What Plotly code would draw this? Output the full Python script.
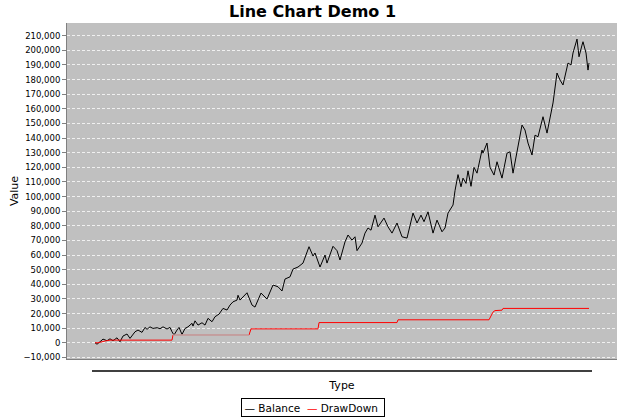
import plotly.graph_objects as go

# Balance series (period index, value)
bal_period = [0, 2, 5, 8, 12, 15, 18, 22, 25, 28, 32, 35, 40, 43, 47, 50, 52, 55, 58, 62,
              65, 68, 72, 75, 77, 79, 82, 84, 87, 90, 93, 97, 98, 100, 103, 107, 110, 113, 117, 120,
              124, 128, 132, 135, 138, 142, 143, 145, 152, 157, 160, 166, 172, 178, 183, 187, 190, 195, 198, 203,
              208, 214, 218, 220, 225, 230, 232, 238, 242, 245, 250, 253, 257, 260, 262, 267, 270, 273, 276, 280,
              283, 289, 293, 297, 302, 307, 312, 318, 322, 326, 329, 333, 338, 342, 347, 350, 353, 358, 360, 363,
              366, 368, 371, 373, 376, 379, 382, 387, 388, 392, 395, 399, 402, 407, 412, 415, 418, 427, 430, 433,
              437, 440, 443, 448, 452, 458, 462, 465, 468, 471, 473, 476, 478, 482, 484, 487, 488, 491, 493, 494]
bal_value = [0, -1000, 700, 2500, 1400, 2700, 1400, 3400, 700, 4600, 6000, 3000, 7500, 8700, 7100, 10500, 9200, 10900, 9800, 10300,
             9600, 10900, 9400, 10500, 7500, 5300, 8700, 10500, 5700, 9800, 10900, 13300, 11400, 15000, 12100, 13700, 12100, 16700, 14400, 17800,
             19600, 23500, 22400, 25800, 28000, 29200, 32500, 29200, 34200, 25800, 24400, 34000, 29900, 39500, 38300, 35400, 43600, 45100, 50400, 51800,
             54500, 65700, 59300, 61400, 51800, 60000, 54500, 66000, 63000, 56600, 69000, 73700, 70200, 72500, 63000, 68200, 75000, 78500, 77000, 87300,
             79300, 85300, 79300, 75000, 81900, 72500, 71600, 88700, 81900, 87300, 82800, 89600, 75000, 83900, 75900, 78500, 88700, 94200, 104000, 115000,
             106700, 112600, 109000, 117600, 107000, 120000, 116000, 131800, 129700, 136600, 120000, 114700, 123800, 112600, 129700, 130600, 116000, 148900, 145500, 136600,
             128400, 142000, 140900, 154600, 143400, 164000, 184500, 179700, 176300, 185400, 191300, 190000, 198200, 207700, 195600, 203600, 205900, 198200, 186500, 191300]

# DrawDown series (step line)
dd_period = [0, 3, 10, 15, 77, 78, 154, 156, 223, 224, 302, 303, 394, 398, 400, 407, 408, 494]
dd_value = [0, 0, 1200, 1800, 1800, 5300, 5300, 9500, 9500, 13800, 13800, 15700, 15700, 21000, 22000, 22300, 23500, 23500]

# highlighted drawdown segment (appears light cyan in the reference)
seg_period = [78, 154]
seg_value = [5300, 5300]

series_names = ["Balance", "DrawDown"]
series_colors = ["black", "red"]

fig = go.Figure()
fig.add_trace(go.Scatter(x=bal_period, y=bal_value, mode="lines", name=series_names[0],
                         line=dict(color=series_colors[0], width=1)))
fig.add_trace(go.Scatter(x=dd_period, y=dd_value, mode="lines", name=series_names[1],
                         line=dict(color=series_colors[1], width=1)))
fig.add_trace(go.Scatter(x=seg_period, y=seg_value, mode="lines", showlegend=False,
                         line=dict(color="#a8dede", width=1), hoverinfo="skip"))

fig.add_shape(type="line", xref="x", yref="paper",
              x0=bal_period[0] - 3, x1=bal_period[-1] + 3, y0=-0.036, y1=-0.036,
              line=dict(color="black", width=1.5))

# compact legend box like the reference
legend_text = "&nbsp;".join(
    f'<span style="color:{c}">—</span> {n} ' for n, c in zip(series_names, series_colors)
)
fig.add_annotation(text=legend_text, xref="paper", yref="paper",
                   x=(312.5 - 67) / 550, xanchor="center",
                   y=(359 - 417) / 336, yanchor="bottom", showarrow=False,
                   font=dict(family="DejaVu Sans", size=10.5, color="black"),
                   bordercolor="black", borderwidth=1, borderpad=2.5, bgcolor="white")

fig.update_layout(
    width=625, height=420,
    margin=dict(l=67, r=8, t=23, b=61),
    paper_bgcolor="white",
    plot_bgcolor="#c0c0c0",
    font=dict(family="DejaVu Sans", size=10, color="black"),
    title=dict(text="<b>Line Chart Demo 1</b>", x=0.5, xanchor="center",
               y=1 - 11 / 420, yanchor="middle", yref="container",
               font=dict(family="DejaVu Sans", size=16, color="black")),
    showlegend=False,
)
fig.update_xaxes(range=[-28, 522], showticklabels=False, showgrid=False, zeroline=False,
                 showline=True, linecolor="#808080", linewidth=1, ticks="",
                 title=dict(text="Type", font=dict(size=11), standoff=22))
fig.update_yaxes(range=[-11100, 218700], dtick=10000, tick0=0, tickformat=",",
                 showgrid=True, gridcolor="#f0f0f0", griddash="3px,2px", gridwidth=1,
                 zeroline=False, showline=True, linecolor="#808080", linewidth=1,
                 ticks="outside", ticklen=4, tickcolor="#808080",
                 tickfont=dict(size=8.5),
                 title=dict(text="Value", font=dict(size=11), standoff=2))

fig.write_html("out.html")
